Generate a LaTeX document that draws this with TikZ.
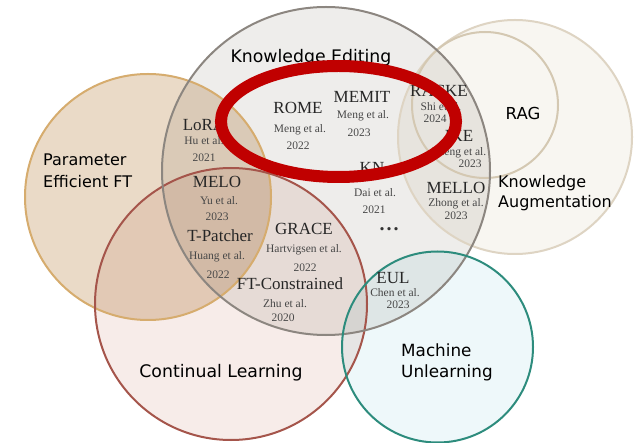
\documentclass[tikz,border=0pt]{standalone}
\usepackage{fontspec}
\setmainfont{Liberation Serif}
\newfontfamily\catfont{DejaVu Sans}
\definecolor{peF}{RGB}{234,218,199}
\definecolor{keF}{RGB}{238,237,235}
\definecolor{clF}{RGB}{247,236,233}
\definecolor{muF}{RGB}{238,248,250}
\definecolor{kaF}{RGB}{248,246,241}
\definecolor{peD}{RGB}{214,172,110}
\definecolor{keD}{RGB}{140,134,128}
\definecolor{clD}{RGB}{165,85,75}
\definecolor{muD}{RGB}{45,140,125}
\definecolor{kaD}{RGB}{222,212,195}
\definecolor{ragD}{RGB}{212,200,178}
\definecolor{hiRed}{RGB}{192,0,0}
\begin{document}
\begin{tikzpicture}[x=1pt,y=-1pt,
  cat/.style={font=\catfont\fontsize{16}{20}\selectfont, text=black, inner sep=0pt},
  mname/.style={font=\fontsize{17}{19}\selectfont, text=black!85, inner sep=0pt},
  mref/.style={font=\fontsize{11.5}{13}\selectfont, text=black!72, inner sep=0pt},
  ring/.style={line width=2pt}]
\fill[white] (0,0) rectangle (634,443);
\useasboundingbox (0,0) rectangle (634,443);
% fills
\begin{scope}[blend group=multiply]
  \fill[kaF] (515,137) circle (117pt);
  \fill[peF] (148,197) circle (123pt);
  \fill[clF] (231,304) circle (136pt);
  \fill[keF] (326,171) circle (164pt);
  \fill[muF] (437.5,347) circle (95.5pt);
\end{scope}
% outlines
\draw[ring, kaD] (515,137) circle (117pt);
\draw[ring, ragD] (485,105) circle (73pt);
\draw[ring, peD] (148,197) circle (123pt);
\draw[ring, clD] (231,304) circle (136pt);
\draw[ring, keD] (326,171) circle (164pt);
\draw[ring, muD] (437.5,347) circle (95.5pt);
% category labels
\node[cat, font=\catfont\fontsize{17.3}{20}\selectfont] (ke) at (311,58) {Knowledge Editing};
\node[cat, font=\catfont\fontsize{16.5}{20}\selectfont] (rag) at (523,113) {RAG};
\node[cat, anchor=west, align=left] (ka) at (498,193.5) {Knowledge\\Augmentation};
\node[cat, anchor=west, align=left, font=\catfont\fontsize{16}{22}\selectfont] (pe) at (43,171) {Parameter\\Efficient FT};
\node[cat, font=\catfont\fontsize{17.3}{20}\selectfont] (cl) at (221,373) {Continual Learning};
\node[cat, anchor=west, align=left, font=\catfont\fontsize{16.8}{21}\selectfont] (mu) at (401,362.5) {Machine\\Unlearning};
% methods
\node[mname] (rome) at (298,108) {ROME};
\node[mref] (rome1) at (300,130) {Meng et al.};
\node[mref] (rome2) at (298,146) {2022};
\node[mname] (memit) at (362,97) {MEMIT};
\node[mref] (memit1) at (363,116) {Meng et al.};
\node[mref] (memit2) at (359,133) {2023};
\node[mname] (racke) at (439,91) {RACKE};
\node[mref] (racke1) at (441,107) {Shi et al.};
\node[mref] (racke2) at (435,119) {2024};
\node[mname] (ike) at (459,136) {IKE};
\node[mref] (ike1) at (459,153) {Zheng et al.};
\node[mref] (ike2) at (470,164) {2023};
\node[mname] (mello) at (456,188) {MELLO};
\node[mref] (mello1) at (456,204) {Zhong et al.};
\node[mref] (mello2) at (456,216) {2023};
\node[mname] (kn) at (372,168) {KN};
\node[mref] (kn1) at (375,193) {Dai et al.};
\node[mref] (kn2) at (374,210) {2021};
\node[mname, font=\bfseries\fontsize{20}{20}\selectfont, text=black!80, text height=3.5pt, text depth=0pt, anchor=south] (dots) at (389,231) {.\hspace{2pt}.\hspace{2pt}.};
\node[mname] (lora) at (204,125) {LoRA};
\node[mref] (lora1) at (204,141) {Hu et al.};
\node[mref] (lora2) at (204,158) {2021};
\node[mname] (melo) at (217,182) {MELO};
\node[mref] (melo1) at (219,201) {Yu et al.};
\node[mref] (melo2) at (217,217) {2023};
\node[mname] (tp) at (220,236) {T-Patcher};
\node[mref] (tp1) at (217,257) {Huang et al.};
\node[mref] (tp2) at (218,275) {2022};
\node[mname] (grace) at (304,229) {GRACE};
\node[mref] (grace1) at (304,250) {Hartvigsen et al.};
\node[mref] (grace2) at (305,268) {2022};
\node[mname] (ftc) at (290,284) {FT-Constrained};
\node[mref] (ftc1) at (285,304) {Zhu et al.};
\node[mref] (ftc2) at (283,318) {2020};
\node[mname] (eul) at (393,278) {EUL};
\node[mref] (eul1) at (395,293) {Chen et al.};
\node[mref] (eul2) at (398,305) {2023};
% highlight
\draw[hiRed, line width=12pt] (338.5,121.5) ellipse [x radius=117.5pt, y radius=55.5pt];
\end{tikzpicture}
\end{document}
